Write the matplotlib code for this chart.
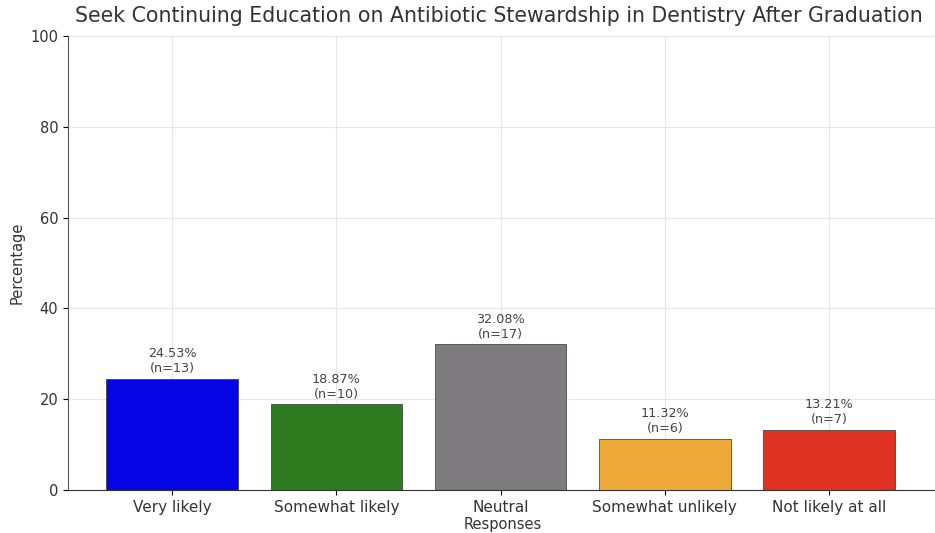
import numpy as np
import matplotlib.pyplot as plt

# survey responses
categories = ["Very likely", "Somewhat likely", "Neutral", "Somewhat unlikely", "Not likely at all"]
percentages = [24.53, 18.87, 32.08, 11.32, 13.21]
counts = [13, 10, 17, 6, 7]
colors = ["#0505e6", "#2e7a1f", "#7e7c7f", "#eeaa38", "#e03222"]

fig = plt.figure(figsize=(9.35, 5.33), dpi=100)
ax = fig.add_axes([0.0727, 0.0807, 0.93, 0.8518])

x = np.arange(len(categories))
ax.bar(x, percentages, width=0.8, color=colors, edgecolor="#333333", linewidth=0.5, zorder=2)

for xi, p, n in zip(x, percentages, counts):
    ax.text(xi, p + 0.8, f"{p:.2f}%\n(n={n})", ha="center", va="bottom",
            fontsize=9.2, color="#444444", zorder=3)

ax.set_ylim(0, 100)
ax.set_xlim(-0.634, 4.66)
ax.set_xticks(x)
ax.set_xticklabels(categories, fontsize=11, color="#333333")
ax.set_yticks([0, 20, 40, 60, 80, 100])
ax.tick_params(axis="y", labelsize=10.5, labelcolor="#333333")
ax.set_ylabel("Percentage", fontsize=10.5, color="#333333")
ax.set_xlabel("Responses", fontsize=10.5, color="#333333", labelpad=2)
ax.set_title("Seek Continuing Education on Antibiotic Stewardship in Dentistry After Graduation",
             fontsize=14.8, color="#333333", loc="left", x=0.008, pad=10)

ax.grid(True, color="#e6e6e6", linewidth=0.8, zorder=0)
ax.set_axisbelow(True)
ax.spines["top"].set_visible(False)
ax.spines["right"].set_visible(False)
ax.spines["left"].set_color("#555555")
ax.spines["bottom"].set_color("#333333")

fig.savefig("out.png", dpi=100)
